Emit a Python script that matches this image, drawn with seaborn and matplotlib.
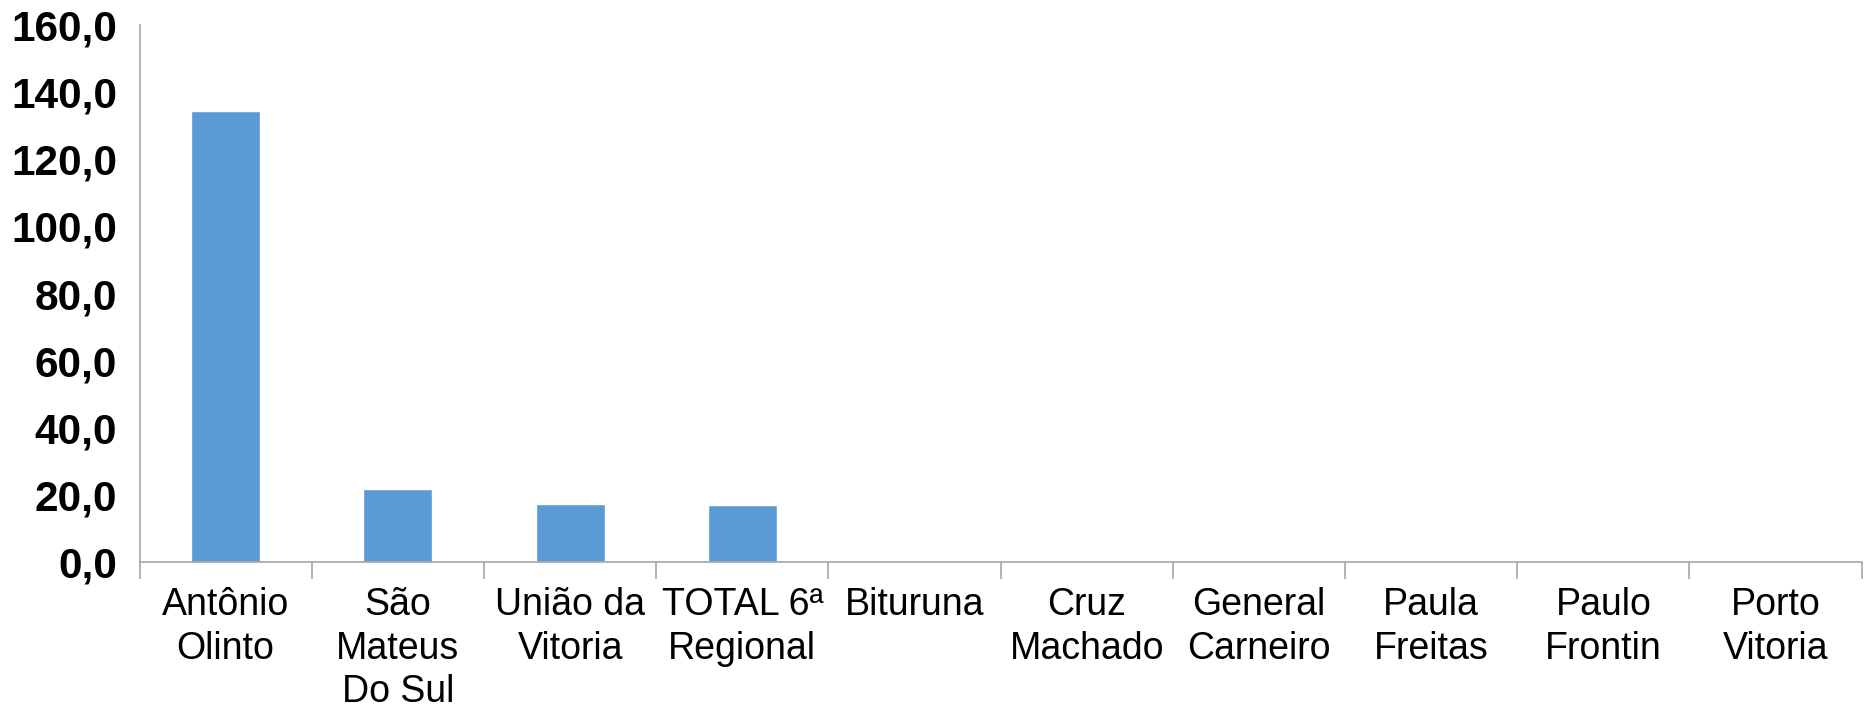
import matplotlib
matplotlib.use("Agg")
import matplotlib.pyplot as plt
import pandas as pd
import seaborn as sns
from matplotlib.ticker import FixedLocator, FuncFormatter

CATEGORIES = [
    "Antônio\nOlinto",
    "São\nMateus\nDo Sul",
    "União da\nVitoria",
    "TOTAL 6ª\nRegional",
    "Bituruna",
    "Cruz\nMachado",
    "General\nCarneiro",
    "Paula\nFreitas",
    "Paulo\nFrontin",
    "Porto\nVitoria",
]
VALUES = [134.4, 21.7, 17.4, 17.1, 0, 0, 0, 0, 0, 0]
Y_TICKS = [0, 20, 40, 60, 80, 100, 120, 140, 160]

BAR_COLOR = "#5B9BD5"
AXIS_COLOR = "#A6A6A6"

sns.set_theme(style="white")
plt.rcParams["font.family"] = ["Liberation Sans", "DejaVu Sans"]

data = pd.DataFrame({"local": CATEGORIES, "valor": VALUES})

fig = plt.figure(figsize=(18.71, 7.07), dpi=100)
ax = fig.add_axes([0.0746, 0.205, 0.9204, 0.7596])

sns.barplot(data=data, x="local", y="valor", color=BAR_COLOR, width=0.4,
            saturation=1, ax=ax)

ax.set_ylim(0, 160)
ax.set_xlim(-0.5, len(CATEGORIES) - 0.5)
ax.set_yticks(Y_TICKS)
ax.yaxis.set_major_formatter(FuncFormatter(lambda v, _: f"{v:.1f}".replace(".", ",")))
ax.set_xlabel("")
ax.set_ylabel("")

for side in ("top", "right"):
    ax.spines[side].set_visible(False)
for side in ("left", "bottom"):
    ax.spines[side].set_color(AXIS_COLOR)
    ax.spines[side].set_linewidth(1.2)

ax.tick_params(axis="y", which="major", direction="out", length=11, width=1.2,
               color=AXIS_COLOR, labelsize=30.5, labelcolor="black", pad=5)
for lab in ax.get_yticklabels():
    lab.set_fontweight("bold")

ax.xaxis.set_minor_locator(FixedLocator([i - 0.5 for i in range(len(CATEGORIES) + 1)]))
ax.tick_params(axis="x", which="major", length=0, labelsize=27, labelcolor="black", pad=18)
ax.tick_params(axis="x", which="minor", direction="out", length=12, width=1.2,
               color=AXIS_COLOR, bottom=True)
for lab in ax.get_xticklabels():
    lab.set_linespacing(1.27)

fig.savefig("out.png", dpi=100, facecolor="white")
